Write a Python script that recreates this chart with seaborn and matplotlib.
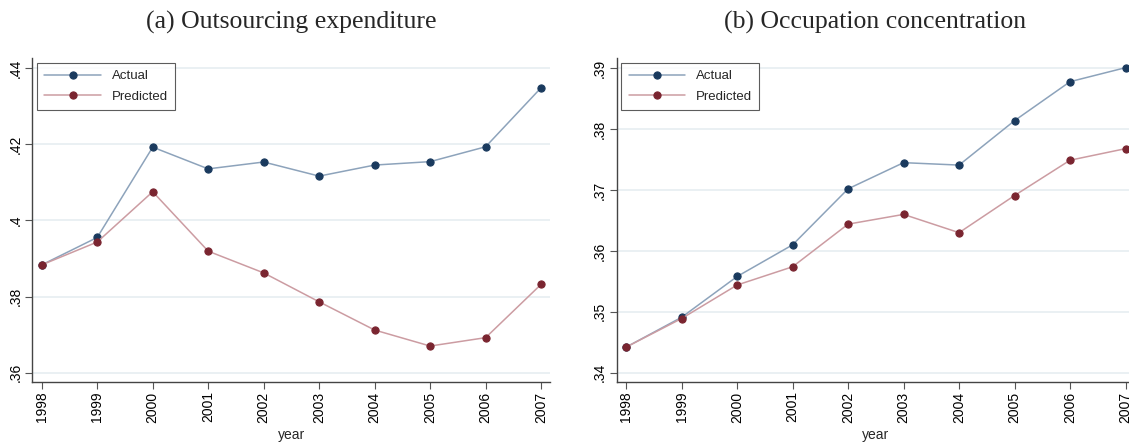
import matplotlib
matplotlib.use("Agg")
import matplotlib.pyplot as plt
import seaborn as sns
import pandas as pd

years = [1998, 1999, 2000, 2001, 2002, 2003, 2004, 2005, 2006, 2007]

outsourcing_actual = [0.3883, 0.3955, 0.4192, 0.4135, 0.4153, 0.4116, 0.4145, 0.4154, 0.4193, 0.4348]
outsourcing_pred = [0.3883, 0.3943, 0.4075, 0.3919, 0.3862, 0.3786, 0.3712, 0.3670, 0.3692, 0.3832]

occupation_actual = [0.3442, 0.3491, 0.3558, 0.3610, 0.3702, 0.3745, 0.3741, 0.3814, 0.3878, 0.3901]
occupation_pred = [0.3442, 0.3489, 0.3544, 0.3574, 0.3644, 0.3660, 0.3630, 0.3691, 0.3749, 0.3768]

titles = ["(a) Outsourcing expenditure", "(b) Occupation concentration"]
series_names = ["Actual", "Predicted"]

yticks_a = [0.36, 0.38, 0.40, 0.42, 0.44]
ylabels_a = [".36", ".38", ".4", ".42", ".44"]
yticks_b = [0.34, 0.35, 0.36, 0.37, 0.38, 0.39]
ylabels_b = [".34", ".35", ".36", ".37", ".38", ".39"]

sns.set_theme(style="white")
plt.rcParams["font.family"] = ["Liberation Sans", "DejaVu Sans"]

fig = plt.figure(figsize=(11.29, 4.47), dpi=100)
W, H = 1129, 447
ax_w = 517.7 / W
ax_h = 323.7 / H
bottom = 1 - 381.7 / H
ax1 = fig.add_axes([32.3 / W, bottom, ax_w, ax_h])
ax2 = fig.add_axes([616.7 / W, bottom, ax_w, ax_h])

line_colors = ["#8da3bb", "#cc9ca2"]
marker_colors = ["#1a3a5e", "#7a2530"]

panels = [
    (ax1, outsourcing_actual, outsourcing_pred, yticks_a, ylabels_a, (0.35764, 0.4426), titles[0]),
    (ax2, occupation_actual, occupation_pred, yticks_b, ylabels_b, (0.33852, 0.39169), titles[1]),
]

for ax, act, pred, yt, yl, ylim, title in panels:
    df = pd.DataFrame({"year": years * 2,
                       "value": act + pred,
                       "series": [series_names[0]] * len(years) + [series_names[1]] * len(years)})
    for i, name in enumerate(series_names):
        sub = df[df["series"] == name]
        sns.lineplot(data=sub, x="year", y="value", ax=ax, color=line_colors[i],
                     linewidth=1.1, marker="o", markersize=5.2,
                     markerfacecolor=marker_colors[i], markeredgecolor=marker_colors[i],
                     label=name, zorder=3)
    ax.set_xlim(1997.83, 2007.16)
    ax.set_ylim(*ylim)
    ax.set_xticks(years)
    ax.set_xticklabels([str(y) for y in years], rotation=90, fontsize=10)
    ax.set_yticks(yt)
    ax.set_yticklabels(yl, rotation=90, fontsize=10, va="center")
    ax.set_xlabel("year", fontsize=10)
    ax.set_ylabel("")
    ax.grid(axis="y", color="#e6eef1", linewidth=1.2)
    ax.grid(axis="x", visible=False)
    for s in ["top", "right"]:
        ax.spines[s].set_visible(False)
    for s in ["left", "bottom"]:
        ax.spines[s].set_color("#444444")
        ax.spines[s].set_linewidth(1.0)
    ax.tick_params(axis="both", direction="out", length=5, width=0.8, color="#555555",
                   left=True, bottom=True, pad=2, labelcolor="black")
    ax.set_title(title, fontsize=18.5, family=["Liberation Serif", "DejaVu Serif"], pad=21)
    leg = ax.legend(loc="upper left", bbox_to_anchor=(0.009, 0.985), fontsize=9.5,
                    frameon=True, fancybox=False, edgecolor="#333333", handlelength=4.3,
                    borderpad=0.55, labelspacing=0.6, borderaxespad=0)
    leg.get_frame().set_linewidth(0.8)

fig.savefig("out.png", dpi=100)
